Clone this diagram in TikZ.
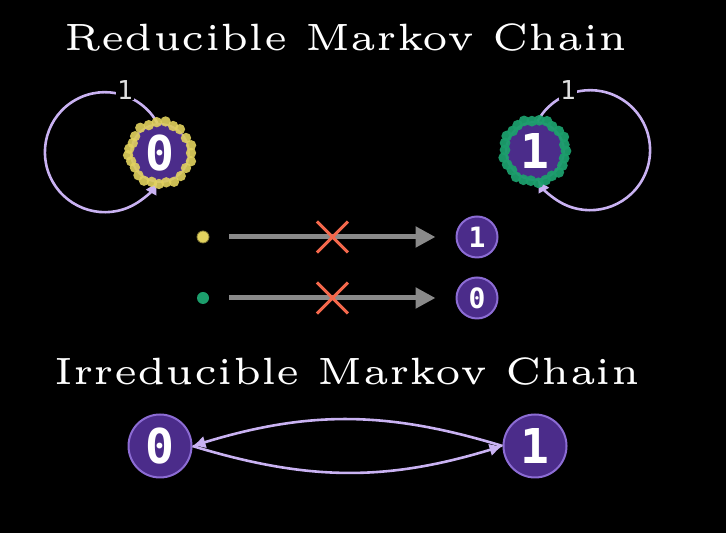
\documentclass[tikz,border=0pt]{standalone}
\usepackage{fontspec}
\newfontfamily\statefont{DejaVu Sans Mono}
\usetikzlibrary{arrows.meta,shapes.misc}
\definecolor{statefill}{HTML}{4B2C8A}
\definecolor{statering}{HTML}{8C6CD4}
\definecolor{edgecol}{HTML}{C9B2F2}
\definecolor{yellowdot}{HTML}{E2D25E}
\definecolor{greendot}{HTML}{1C9E6C}
\definecolor{arrowgrey}{HTML}{8A8A8A}
\definecolor{crossred}{HTML}{F4684C}
\begin{document}
\begin{tikzpicture}[x=0.5pt,y=0.5pt,>={Latex[length=6.5pt,width=6.5pt]},
	state/.style={circle,fill=statefill,draw=statering,line width=1pt,inner sep=0pt,minimum size=29pt,text=white,font=\statefont\bfseries\fontsize{24}{24}\selectfont},
	smallstate/.style={state,minimum size=20.5pt,font=\statefont\bfseries\fontsize{14}{14}\selectfont},
	heading/.style={text=white,font=\fontsize{5}{6}\selectfont,scale=3.8,transform shape,inner sep=0pt},
	edge/.style={->,draw=edgecol,line width=1.3pt},
	looplabel/.style={fill=black,text=black!12,inner sep=0.5pt,font=\statefont\fontsize{13}{13}\selectfont},
	greyarrow/.style={-{Triangle[length=10pt,width=10pt]},draw=arrowgrey,line width=2.5pt,shorten <=10pt,shorten >=10pt},
	cross/.style={cross out,draw=crossred,line width=1.5pt,minimum size=14pt,inner sep=0pt,shorten <=0pt,shorten >=0pt},
	dot/.style={circle,inner sep=0pt,minimum size=6pt}]
	\fill[black] (0,0) rectangle (726,533);
	\node[heading] (redtitle) at (346,495) {Reducible Markov Chain};
	\node[state] (n0) at (160,380) {0};
	\node[state] (n1) at (535,382) {1};
	\draw[edge] (n0.95) arc[start angle=29,end angle=331,radius=60];
	\draw[edge] (n1.85) arc[start angle=151,end angle=-151,radius=60];
	\node[looplabel] (l0) at ([shift={(-35,63)}]n0) {1};
	\node[looplabel] (l1) at ([shift={(33,61)}]n1) {1};
	\foreach \a/\r in {0/31,14/32,30/30,50/31,64/30,80/32,96/31,112/30,128/32,146/30,160/29,172/31,184/32,196/30,210/29,226/31,240/32,254/30,268/31,282/30,296/32,312/31,330/30,345/32}
		\fill[yellowdot,opacity=0.9] (n0) ++(\a:\r) circle (5.2);
	\foreach \a/\r in {0/31,12/30,26/32,40/31,55/30,68/32,82/31,96/30,110/32,124/31,138/30,152/32,165/31,178/30,192/32,206/31,220/30,234/32,248/31,262/30,276/32,290/31,304/30,318/32,332/31,346/30}
		\fill[greendot,opacity=0.95] (n1) ++(\a:\r) circle (5.4);
	\node[dot,fill=yellowdot,draw=yellowdot!60!black] (ydot) at (203,296) {};
	\node[smallstate] (s1) at (477,296) {1};
	\draw[greyarrow] (ydot) -- node[cross]{} (s1);
	\node[dot,fill=greendot] (gdot) at (203,235) {};
	\node[smallstate] (s0) at (477,235) {0};
	\draw[greyarrow] (gdot) -- node[cross]{} (s0);
	\node[heading] (irrtitle) at (347,161) {Irreducible Markov Chain};
	\node[state,minimum size=31.5pt] (b0) at (160,87) {0};
	\node[state,minimum size=31.5pt] (b1) at (535,87) {1};
	\draw[edge] (b1.west) to[bend right=17] (b0.east);
	\draw[edge] (b0.east) to[bend right=17] (b1.west);
\end{tikzpicture}
\end{document}
